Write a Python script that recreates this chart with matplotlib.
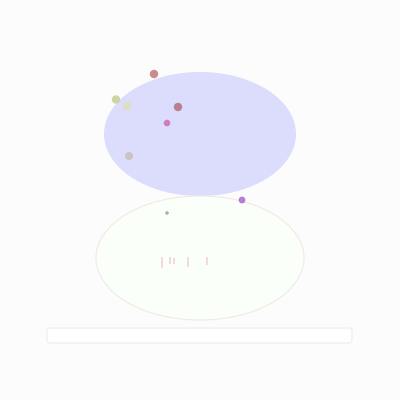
import matplotlib
matplotlib.use("Agg")
import matplotlib.pyplot as plt
from matplotlib.patches import Ellipse, FancyBboxPatch

# ── data (pixel space, y goes down) ─────────────────────────────────────────
ellipse_cx = [200, 200]
ellipse_cy = [134, 258]
ellipse_w = [192, 208]
ellipse_h = [124, 124]
ellipse_face = ["#dcdcfc", "#fbfffa"]
ellipse_edge = ["none", "#efebe2"]

dot_x = [154, 116, 127, 178, 167, 129, 242, 167]
dot_y = [74, 99.5, 106, 107, 123, 156, 200, 213]
dot_r = [4.2, 4.2, 4.2, 4.2, 3.3, 4.0, 3.4, 1.8]
dot_c = ["#cc8a8a", "#ccd6a2", "#dedec0", "#b68090", "#d47abe",
         "#ccc4c4", "#b67cd6", "#aab0a4"]

tick_x = [162, 170, 174, 188, 207]
tick_top = [257, 257, 258, 257, 257]
tick_bot = [268, 264, 264, 267, 265]

bar_box = [47, 328, 305, 15]

# ── figura ──────────────────────────────────────────────────────────────────
fig = plt.figure(figsize=(4, 4), dpi=100, facecolor="#fcfcfc")
ax = fig.add_axes([0, 0, 1, 1])
ax.set_xlim(0, 400)
ax.set_ylim(400, 0)
ax.axis("off")
ax.set_facecolor("#fcfcfc")

for cx, cy, w, h, fc, ec in zip(ellipse_cx, ellipse_cy, ellipse_w, ellipse_h,
                                ellipse_face, ellipse_edge):
    ax.add_patch(Ellipse((cx, cy), w, h, facecolor=fc, edgecolor=ec, lw=0.8))

for x, y, r, c in zip(dot_x, dot_y, dot_r, dot_c):
    ax.add_patch(plt.Circle((x, y), r, color=c, lw=0))

ax.vlines(tick_x, tick_top, tick_bot, colors="#f2d0d6", lw=1.1)

bx, by, bw, bh = bar_box
ax.add_patch(FancyBboxPatch((bx, by), bw, bh, boxstyle="round,pad=0,rounding_size=3",
                            facecolor="#ffffff", edgecolor="#f0f0f0", lw=1))

fig.savefig("out.png", dpi=100, facecolor=fig.get_facecolor())
